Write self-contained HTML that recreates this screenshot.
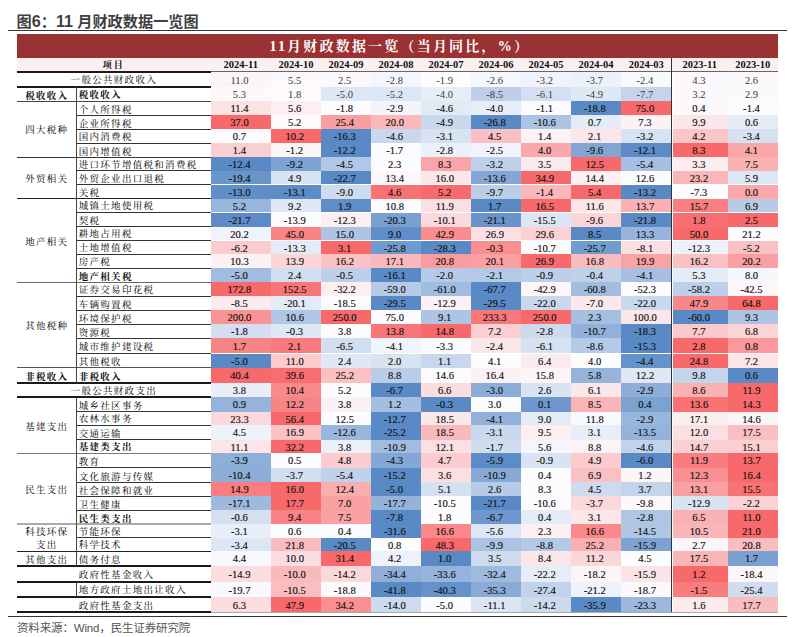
<!DOCTYPE html>
<html><head><meta charset="utf-8">
<style>
html,body{margin:0;padding:0;background:#fff;}
body{width:800px;height:637px;position:relative;overflow:hidden;}
.a{position:absolute;}
.t{position:absolute;left:16.5px;top:8.7px;font:bold 15.2px "Liberation Sans","Noto Sans CJK SC",sans-serif;color:#3f3f3f;white-space:nowrap;letter-spacing:0px;}
.hl{position:absolute;height:1px;background:#333;}
.vl{position:absolute;width:1px;background:#333;}
.bar{position:absolute;left:17px;top:33.6px;width:760.6px;height:24px;background:#9a3132;}
.bt{position:absolute;left:19.5px;top:35.2px;width:760.6px;height:24px;line-height:24px;text-align:center;color:#fff;font:bold 14px "Liberation Serif","Noto Serif CJK SC",serif;letter-spacing:2.2px;white-space:nowrap;}
.hd{position:absolute;top:57.6px;height:14px;background:#faf0f0;}
.hc{position:absolute;top:59px;height:14px;line-height:14px;text-align:center;font:bold 10.5px "Liberation Serif",serif;color:#111;white-space:nowrap;}
.c{position:absolute;text-align:center;font:10.6px "Liberation Serif",serif;color:#111;white-space:nowrap;box-sizing:border-box;padding-right:2.6px;-webkit-text-stroke:0.15px #111;}
.l{position:absolute;font:9.5px "Noto Serif CJK SC",serif;color:#000;white-space:nowrap;letter-spacing:1.3px;}
.b{font-weight:bold;color:#111;}
.f{position:absolute;left:17px;top:619px;letter-spacing:-0.15px;font:11.5px "Liberation Sans","Noto Sans CJK SC",sans-serif;color:#555;white-space:nowrap;}
</style></head><body>
<div class="t">图<span style="font-size:16.2px">6</span>：<span style="font-size:16.2px">11</span> 月财政数据一览图</div>
<div class="hl" style="left:8px;top:30px;width:779px;background:#333;"></div>
<div class="bar"></div>
<div class="bt">11月财政数据一览（当月同比，%）</div>

<div class="hd" style="left:17px;width:760.6px;"></div>
<div class="hc" style="left:17px;width:193.6px;font-family:'Noto Serif CJK SC',serif;font-size:9px;top:57.8px;letter-spacing:2px;">项目</div>
<div class="hc" style="left:210.6px;width:60.4px;">2024-11</div>
<div class="hc" style="left:271px;width:50px;">2024-10</div>
<div class="hc" style="left:321px;width:50px;">2024-09</div>
<div class="hc" style="left:371px;width:50px;">2024-08</div>
<div class="hc" style="left:421px;width:50px;">2024-07</div>
<div class="hc" style="left:471px;width:50px;">2024-06</div>
<div class="hc" style="left:521px;width:50px;">2024-05</div>
<div class="hc" style="left:571px;width:50px;">2024-04</div>
<div class="hc" style="left:621px;width:50.5px;">2024-03</div>
<div class="hc" style="left:671.5px;width:56.5px;">2023-11</div>
<div class="hc" style="left:728px;width:49.6px;">2023-10</div>
<div class="c" style="left:210.6px;top:71.6px;width:60.4px;height:15.0px;line-height:17.0px;background:#fcf5f8;color:#3a3a3a;-webkit-text-stroke:0;">11.0</div>
<div class="c" style="left:271px;top:71.6px;width:50px;height:15.0px;line-height:17.0px;background:#fcf8fb;color:#3a3a3a;-webkit-text-stroke:0;">5.5</div>
<div class="c" style="left:321px;top:71.6px;width:50px;height:15.0px;line-height:17.0px;background:#fcf9fc;color:#3a3a3a;-webkit-text-stroke:0;">2.5</div>
<div class="c" style="left:371px;top:71.6px;width:50px;height:15.0px;line-height:17.0px;background:#f3f6fc;color:#3a3a3a;-webkit-text-stroke:0;">-2.8</div>
<div class="c" style="left:421px;top:71.6px;width:50px;height:15.0px;line-height:17.0px;background:#fcfcff;color:#3a3a3a;-webkit-text-stroke:0;">-1.9</div>
<div class="c" style="left:471px;top:71.6px;width:50px;height:15.0px;line-height:17.0px;background:#f5f7fd;color:#3a3a3a;-webkit-text-stroke:0;">-2.6</div>
<div class="c" style="left:521px;top:71.6px;width:50px;height:15.0px;line-height:17.0px;background:#f0f3fb;color:#3a3a3a;-webkit-text-stroke:0;">-3.2</div>
<div class="c" style="left:571px;top:71.6px;width:50px;height:15.0px;line-height:17.0px;background:#ebf0f9;color:#3a3a3a;-webkit-text-stroke:0;">-3.7</div>
<div class="c" style="left:621px;top:71.6px;width:50.5px;height:15.0px;line-height:17.0px;background:#f7f9fd;color:#3a3a3a;-webkit-text-stroke:0;">-2.4</div>
<div class="c" style="left:672.5px;top:71.6px;width:55.5px;height:15.0px;line-height:17.0px;background:#fcf8fb;color:#3a3a3a;-webkit-text-stroke:0;">4.3</div>
<div class="c" style="left:728px;top:71.6px;width:49.6px;height:15.0px;line-height:17.0px;background:#fcf9fc;color:#3a3a3a;-webkit-text-stroke:0;">2.6</div>
<div class="c" style="left:210.6px;top:86.6px;width:60.4px;height:14.6px;line-height:16.6px;background:#fcf8fb;color:#3a3a3a;-webkit-text-stroke:0;">5.3</div>
<div class="c" style="left:271px;top:86.6px;width:50px;height:14.6px;line-height:16.6px;background:#fcfafd;color:#3a3a3a;-webkit-text-stroke:0;">1.8</div>
<div class="c" style="left:321px;top:86.6px;width:50px;height:14.6px;line-height:16.6px;background:#dee7f5;color:#3a3a3a;-webkit-text-stroke:0;">-5.0</div>
<div class="c" style="left:371px;top:86.6px;width:50px;height:14.6px;line-height:16.6px;background:#dce6f4;color:#3a3a3a;-webkit-text-stroke:0;">-5.2</div>
<div class="c" style="left:421px;top:86.6px;width:50px;height:14.6px;line-height:16.6px;background:#e8eef8;color:#3a3a3a;-webkit-text-stroke:0;">-4.0</div>
<div class="c" style="left:471px;top:86.6px;width:50px;height:14.6px;line-height:16.6px;background:#bdcfe9;color:#3a3a3a;-webkit-text-stroke:0;">-8.5</div>
<div class="c" style="left:521px;top:86.6px;width:50px;height:14.6px;line-height:16.6px;background:#d4e0f1;color:#3a3a3a;-webkit-text-stroke:0;">-6.1</div>
<div class="c" style="left:571px;top:86.6px;width:50px;height:14.6px;line-height:16.6px;background:#dfe8f5;color:#3a3a3a;-webkit-text-stroke:0;">-4.9</div>
<div class="c" style="left:621px;top:86.6px;width:50.5px;height:14.6px;line-height:16.6px;background:#c4d5eb;color:#3a3a3a;-webkit-text-stroke:0;">-7.7</div>
<div class="c" style="left:672.5px;top:86.6px;width:55.5px;height:14.6px;line-height:16.6px;background:#fcf9fc;color:#3a3a3a;-webkit-text-stroke:0;">3.2</div>
<div class="c" style="left:728px;top:86.6px;width:49.6px;height:14.6px;line-height:16.6px;background:#fcf9fc;color:#3a3a3a;-webkit-text-stroke:0;">2.9</div>
<div class="c" style="left:210.6px;top:101.2px;width:60.4px;height:14.1px;line-height:16.1px;background:#fbe3e5;">11.4</div>
<div class="c" style="left:271px;top:101.2px;width:50px;height:14.1px;line-height:16.1px;background:#fceef1;">5.6</div>
<div class="c" style="left:321px;top:101.2px;width:50px;height:14.1px;line-height:16.1px;background:#fcfcff;">-1.8</div>
<div class="c" style="left:371px;top:101.2px;width:50px;height:14.1px;line-height:16.1px;background:#f2f5fc;">-2.9</div>
<div class="c" style="left:421px;top:101.2px;width:50px;height:14.1px;line-height:16.1px;background:#e2eaf6;">-4.6</div>
<div class="c" style="left:471px;top:101.2px;width:50px;height:14.1px;line-height:16.1px;background:#e8eef8;">-4.0</div>
<div class="c" style="left:521px;top:101.2px;width:50px;height:14.1px;line-height:16.1px;background:#fcfafd;">-1.1</div>
<div class="c" style="left:571px;top:101.2px;width:50px;height:14.1px;line-height:16.1px;background:#5a8ac6;">-18.8</div>
<div class="c" style="left:621px;top:101.2px;width:50.5px;height:14.1px;line-height:16.1px;background:#f8696b;">75.0</div>
<div class="c" style="left:672.5px;top:101.2px;width:55.5px;height:14.1px;line-height:16.1px;background:#fcf8fb;">0.4</div>
<div class="c" style="left:728px;top:101.2px;width:49.6px;height:14.1px;line-height:16.1px;background:#fcfbfe;">-1.4</div>
<div class="c" style="left:210.6px;top:115.3px;width:60.4px;height:14.0px;line-height:16.0px;background:#f8696b;">37.0</div>
<div class="c" style="left:271px;top:115.3px;width:50px;height:14.0px;line-height:16.0px;background:#fcfcff;">5.2</div>
<div class="c" style="left:321px;top:115.3px;width:50px;height:14.0px;line-height:16.0px;background:#f99fa1;">25.4</div>
<div class="c" style="left:371px;top:115.3px;width:50px;height:14.0px;line-height:16.0px;background:#fab8ba;">20.0</div>
<div class="c" style="left:421px;top:115.3px;width:50px;height:14.0px;line-height:16.0px;background:#c9d8ed;">-4.9</div>
<div class="c" style="left:471px;top:115.3px;width:50px;height:14.0px;line-height:16.0px;background:#5a8ac6;">-26.8</div>
<div class="c" style="left:521px;top:115.3px;width:50px;height:14.0px;line-height:16.0px;background:#acc4e3;">-10.6</div>
<div class="c" style="left:571px;top:115.3px;width:50px;height:14.0px;line-height:16.0px;background:#e5ecf7;">0.7</div>
<div class="c" style="left:621px;top:115.3px;width:50.5px;height:14.0px;line-height:16.0px;background:#fcf2f5;">7.3</div>
<div class="c" style="left:672.5px;top:115.3px;width:55.5px;height:14.0px;line-height:16.0px;background:#fbe6e9;">9.9</div>
<div class="c" style="left:728px;top:115.3px;width:49.6px;height:14.0px;line-height:16.0px;background:#e5ecf7;">0.6</div>
<div class="c" style="left:210.6px;top:129.3px;width:60.4px;height:13.7px;line-height:15.7px;background:#fcfcff;">0.7</div>
<div class="c" style="left:271px;top:129.3px;width:50px;height:13.7px;line-height:15.7px;background:#f8696b;">10.2</div>
<div class="c" style="left:321px;top:129.3px;width:50px;height:13.7px;line-height:15.7px;background:#5a8ac6;">-16.3</div>
<div class="c" style="left:371px;top:129.3px;width:50px;height:13.7px;line-height:15.7px;background:#c9d8ed;">-4.6</div>
<div class="c" style="left:421px;top:129.3px;width:50px;height:13.7px;line-height:15.7px;background:#d8e3f2;">-3.1</div>
<div class="c" style="left:471px;top:129.3px;width:50px;height:13.7px;line-height:15.7px;background:#fac1c4;">4.5</div>
<div class="c" style="left:521px;top:129.3px;width:50px;height:13.7px;line-height:15.7px;background:#fcf1f4;">1.4</div>
<div class="c" style="left:571px;top:129.3px;width:50px;height:13.7px;line-height:15.7px;background:#fbe6e9;">2.1</div>
<div class="c" style="left:621px;top:129.3px;width:50.5px;height:13.7px;line-height:15.7px;background:#d7e2f2;">-3.2</div>
<div class="c" style="left:672.5px;top:129.3px;width:55.5px;height:13.7px;line-height:15.7px;background:#fbc6c8;">4.2</div>
<div class="c" style="left:728px;top:129.3px;width:49.6px;height:13.7px;line-height:15.7px;background:#d5e1f1;">-3.4</div>
<div class="c" style="left:210.6px;top:143.0px;width:60.4px;height:14.1px;line-height:16.1px;background:#fbced1;">1.4</div>
<div class="c" style="left:271px;top:143.0px;width:50px;height:14.1px;line-height:16.1px;background:#fcf5f8;">-1.2</div>
<div class="c" style="left:321px;top:143.0px;width:50px;height:14.1px;line-height:16.1px;background:#5a8ac6;">-12.2</div>
<div class="c" style="left:371px;top:143.0px;width:50px;height:14.1px;line-height:16.1px;background:#fcfcff;">-1.7</div>
<div class="c" style="left:421px;top:143.0px;width:50px;height:14.1px;line-height:16.1px;background:#ebf0f9;">-2.8</div>
<div class="c" style="left:471px;top:143.0px;width:50px;height:14.1px;line-height:16.1px;background:#f0f3fb;">-2.5</div>
<div class="c" style="left:521px;top:143.0px;width:50px;height:14.1px;line-height:16.1px;background:#faa8ab;">4.0</div>
<div class="c" style="left:571px;top:143.0px;width:50px;height:14.1px;line-height:16.1px;background:#82a6d4;">-9.6</div>
<div class="c" style="left:621px;top:143.0px;width:50.5px;height:14.1px;line-height:16.1px;background:#5c8bc7;">-12.1</div>
<div class="c" style="left:672.5px;top:143.0px;width:55.5px;height:14.1px;line-height:16.1px;background:#f8696b;">8.3</div>
<div class="c" style="left:728px;top:143.0px;width:49.6px;height:14.1px;line-height:16.1px;background:#faa7a9;">4.1</div>
<div class="c" style="left:210.6px;top:157.1px;width:60.4px;height:13.8px;line-height:15.8px;background:#5a8ac6;">-12.4</div>
<div class="c" style="left:271px;top:157.1px;width:50px;height:13.8px;line-height:15.8px;background:#7da3d2;">-9.2</div>
<div class="c" style="left:321px;top:157.1px;width:50px;height:13.8px;line-height:15.8px;background:#b1c7e5;">-4.5</div>
<div class="c" style="left:371px;top:157.1px;width:50px;height:13.8px;line-height:15.8px;background:#fcfcff;">2.3</div>
<div class="c" style="left:421px;top:157.1px;width:50px;height:13.8px;line-height:15.8px;background:#faa6a8;">8.3</div>
<div class="c" style="left:471px;top:157.1px;width:50px;height:13.8px;line-height:15.8px;background:#bfd1ea;">-3.2</div>
<div class="c" style="left:521px;top:157.1px;width:50px;height:13.8px;line-height:15.8px;background:#fcebee;">3.5</div>
<div class="c" style="left:571px;top:157.1px;width:50px;height:13.8px;line-height:15.8px;background:#f8696b;">12.5</div>
<div class="c" style="left:621px;top:157.1px;width:50.5px;height:13.8px;line-height:15.8px;background:#a7c0e1;">-5.4</div>
<div class="c" style="left:672.5px;top:157.1px;width:55.5px;height:13.8px;line-height:15.8px;background:#fceef0;">3.3</div>
<div class="c" style="left:728px;top:157.1px;width:49.6px;height:13.8px;line-height:15.8px;background:#fab1b4;">7.5</div>
<div class="c" style="left:210.6px;top:170.9px;width:60.4px;height:13.6px;line-height:15.6px;background:#6995cb;">-19.4</div>
<div class="c" style="left:271px;top:170.9px;width:50px;height:13.6px;line-height:15.6px;background:#d9e3f3;">4.9</div>
<div class="c" style="left:321px;top:170.9px;width:50px;height:13.6px;line-height:15.6px;background:#5a8ac6;">-22.7</div>
<div class="c" style="left:371px;top:170.9px;width:50px;height:13.6px;line-height:15.6px;background:#fcf7fa;">13.4</div>
<div class="c" style="left:421px;top:170.9px;width:50px;height:13.6px;line-height:15.6px;background:#fbe6e8;">16.0</div>
<div class="c" style="left:471px;top:170.9px;width:50px;height:13.6px;line-height:15.6px;background:#84a7d5;">-13.6</div>
<div class="c" style="left:521px;top:170.9px;width:50px;height:13.6px;line-height:15.6px;background:#f8696b;">34.9</div>
<div class="c" style="left:571px;top:170.9px;width:50px;height:13.6px;line-height:15.6px;background:#fcf0f3;">14.4</div>
<div class="c" style="left:621px;top:170.9px;width:50.5px;height:13.6px;line-height:15.6px;background:#fcfcff;">12.6</div>
<div class="c" style="left:672.5px;top:170.9px;width:55.5px;height:13.6px;line-height:15.6px;background:#fab6b9;">23.2</div>
<div class="c" style="left:728px;top:170.9px;width:49.6px;height:13.6px;line-height:15.6px;background:#dde6f4;">5.9</div>
<div class="c" style="left:210.6px;top:184.5px;width:60.4px;height:14.2px;line-height:16.2px;background:#5f8ec8;">-13.0</div>
<div class="c" style="left:271px;top:184.5px;width:50px;height:14.2px;line-height:16.2px;background:#5d8cc7;">-13.1</div>
<div class="c" style="left:321px;top:184.5px;width:50px;height:14.2px;line-height:16.2px;background:#cddbef;">-9.0</div>
<div class="c" style="left:371px;top:184.5px;width:50px;height:14.2px;line-height:16.2px;background:#f87274;">4.6</div>
<div class="c" style="left:421px;top:184.5px;width:50px;height:14.2px;line-height:16.2px;background:#f86b6d;">5.2</div>
<div class="c" style="left:471px;top:184.5px;width:50px;height:14.2px;line-height:16.2px;background:#bacee8;">-9.7</div>
<div class="c" style="left:521px;top:184.5px;width:50px;height:14.2px;line-height:16.2px;background:#fab8ba;">-1.4</div>
<div class="c" style="left:571px;top:184.5px;width:50px;height:14.2px;line-height:16.2px;background:#f8696b;">5.4</div>
<div class="c" style="left:621px;top:184.5px;width:50.5px;height:14.2px;line-height:16.2px;background:#5a8ac6;">-13.2</div>
<div class="c" style="left:672.5px;top:184.5px;width:55.5px;height:14.2px;line-height:16.2px;background:#fcfcff;">-7.3</div>
<div class="c" style="left:728px;top:184.5px;width:49.6px;height:14.2px;line-height:16.2px;background:#faa8aa;">0.0</div>
<div class="c" style="left:210.6px;top:198.7px;width:60.4px;height:13.8px;line-height:15.8px;background:#98b6dc;">5.2</div>
<div class="c" style="left:271px;top:198.7px;width:50px;height:13.8px;line-height:15.8px;background:#e0e8f5;">9.2</div>
<div class="c" style="left:321px;top:198.7px;width:50px;height:13.8px;line-height:15.8px;background:#5e8dc7;">1.9</div>
<div class="c" style="left:371px;top:198.7px;width:50px;height:13.8px;line-height:15.8px;background:#fcfcff;">10.8</div>
<div class="c" style="left:421px;top:198.7px;width:50px;height:13.8px;line-height:15.8px;background:#fbe0e2;">11.9</div>
<div class="c" style="left:471px;top:198.7px;width:50px;height:13.8px;line-height:15.8px;background:#5a8ac6;">1.7</div>
<div class="c" style="left:521px;top:198.7px;width:50px;height:13.8px;line-height:15.8px;background:#f8696b;">16.5</div>
<div class="c" style="left:571px;top:198.7px;width:50px;height:13.8px;line-height:15.8px;background:#fbe7ea;">11.6</div>
<div class="c" style="left:621px;top:198.7px;width:50.5px;height:13.8px;line-height:15.8px;background:#fab1b4;">13.7</div>
<div class="c" style="left:672.5px;top:198.7px;width:55.5px;height:13.8px;line-height:15.8px;background:#f97e80;">15.7</div>
<div class="c" style="left:728px;top:198.7px;width:49.6px;height:13.8px;line-height:15.8px;background:#b7cbe7;">6.9</div>
<div class="c" style="left:210.6px;top:212.5px;width:60.4px;height:14.1px;line-height:16.1px;background:#5c8bc7;">-21.7</div>
<div class="c" style="left:271px;top:212.5px;width:50px;height:14.1px;line-height:16.1px;background:#fcfcff;">-13.9</div>
<div class="c" style="left:321px;top:212.5px;width:50px;height:14.1px;line-height:16.1px;background:#fceef1;">-12.3</div>
<div class="c" style="left:371px;top:212.5px;width:50px;height:14.1px;line-height:16.1px;background:#79a0d1;">-20.3</div>
<div class="c" style="left:421px;top:212.5px;width:50px;height:14.1px;line-height:16.1px;background:#fbdadd;">-10.1</div>
<div class="c" style="left:471px;top:212.5px;width:50px;height:14.1px;line-height:16.1px;background:#6894cb;">-21.1</div>
<div class="c" style="left:521px;top:212.5px;width:50px;height:14.1px;line-height:16.1px;background:#dbe5f3;">-15.5</div>
<div class="c" style="left:571px;top:212.5px;width:50px;height:14.1px;line-height:16.1px;background:#fbd5d8;">-9.6</div>
<div class="c" style="left:621px;top:212.5px;width:50.5px;height:14.1px;line-height:16.1px;background:#5a8ac6;">-21.8</div>
<div class="c" style="left:672.5px;top:212.5px;width:55.5px;height:14.1px;line-height:16.1px;background:#f86f71;">1.8</div>
<div class="c" style="left:728px;top:212.5px;width:49.6px;height:14.1px;line-height:16.1px;background:#f8696b;">2.5</div>
<div class="c" style="left:210.6px;top:226.6px;width:60.4px;height:13.9px;line-height:15.9px;background:#eff3fb;">20.2</div>
<div class="c" style="left:271px;top:226.6px;width:50px;height:13.9px;line-height:15.9px;background:#f98385;">45.0</div>
<div class="c" style="left:321px;top:226.6px;width:50px;height:13.9px;line-height:15.9px;background:#adc4e3;">15.0</div>
<div class="c" style="left:371px;top:226.6px;width:50px;height:13.9px;line-height:15.9px;background:#608ec8;">9.0</div>
<div class="c" style="left:421px;top:226.6px;width:50px;height:13.9px;line-height:15.9px;background:#f98d8f;">42.9</div>
<div class="c" style="left:471px;top:226.6px;width:50px;height:13.9px;line-height:15.9px;background:#fbdfe2;">26.9</div>
<div class="c" style="left:521px;top:226.6px;width:50px;height:13.9px;line-height:15.9px;background:#fbd1d4;">29.6</div>
<div class="c" style="left:571px;top:226.6px;width:50px;height:13.9px;line-height:15.9px;background:#5a8ac6;">8.5</div>
<div class="c" style="left:621px;top:226.6px;width:50.5px;height:13.9px;line-height:15.9px;background:#97b5dc;">13.3</div>
<div class="c" style="left:672.5px;top:226.6px;width:55.5px;height:13.9px;line-height:15.9px;background:#f8696b;">50.0</div>
<div class="c" style="left:728px;top:226.6px;width:49.6px;height:13.9px;line-height:15.9px;background:#fcfcff;">21.2</div>
<div class="c" style="left:210.6px;top:240.5px;width:60.4px;height:13.9px;line-height:15.9px;background:#fbcccf;">-6.2</div>
<div class="c" style="left:271px;top:240.5px;width:50px;height:13.9px;line-height:15.9px;background:#e4ebf7;">-13.3</div>
<div class="c" style="left:321px;top:240.5px;width:50px;height:13.9px;line-height:15.9px;background:#f8696b;">3.1</div>
<div class="c" style="left:371px;top:240.5px;width:50px;height:13.9px;line-height:15.9px;background:#719ace;">-25.8</div>
<div class="c" style="left:421px;top:240.5px;width:50px;height:13.9px;line-height:15.9px;background:#5a8ac6;">-28.3</div>
<div class="c" style="left:471px;top:240.5px;width:50px;height:13.9px;line-height:15.9px;background:#f98d8f;">-0.3</div>
<div class="c" style="left:521px;top:240.5px;width:50px;height:13.9px;line-height:15.9px;background:#fcfcff;">-10.7</div>
<div class="c" style="left:571px;top:240.5px;width:50px;height:13.9px;line-height:15.9px;background:#729bce;">-25.7</div>
<div class="c" style="left:621px;top:240.5px;width:50.5px;height:13.9px;line-height:15.9px;background:#fbe0e3;">-8.1</div>
<div class="c" style="left:672.5px;top:240.5px;width:55.5px;height:13.9px;line-height:15.9px;background:#edf2fa;">-12.3</div>
<div class="c" style="left:728px;top:240.5px;width:49.6px;height:13.9px;line-height:15.9px;background:#fac1c4;">-5.2</div>
<div class="c" style="left:210.6px;top:254.4px;width:60.4px;height:13.9px;line-height:15.9px;background:#fcf2f5;">10.3</div>
<div class="c" style="left:271px;top:254.4px;width:50px;height:13.9px;line-height:15.9px;background:#fbd5d7;">13.9</div>
<div class="c" style="left:321px;top:254.4px;width:50px;height:13.9px;line-height:15.9px;background:#fac2c4;">16.2</div>
<div class="c" style="left:371px;top:254.4px;width:50px;height:13.9px;line-height:15.9px;background:#fababd;">17.1</div>
<div class="c" style="left:421px;top:254.4px;width:50px;height:13.9px;line-height:15.9px;background:#f99c9e;">20.8</div>
<div class="c" style="left:471px;top:254.4px;width:50px;height:13.9px;line-height:15.9px;background:#faa1a4;">20.1</div>
<div class="c" style="left:521px;top:254.4px;width:50px;height:13.9px;line-height:15.9px;background:#f8696b;">26.9</div>
<div class="c" style="left:571px;top:254.4px;width:50px;height:13.9px;line-height:15.9px;background:#fabdbf;">16.8</div>
<div class="c" style="left:621px;top:254.4px;width:50.5px;height:13.9px;line-height:15.9px;background:#faa3a5;">19.9</div>
<div class="c" style="left:672.5px;top:254.4px;width:55.5px;height:13.9px;line-height:15.9px;background:#fac2c4;">16.2</div>
<div class="c" style="left:728px;top:254.4px;width:49.6px;height:13.9px;line-height:15.9px;background:#faa0a3;">20.2</div>
<div class="c" style="left:210.6px;top:268.3px;width:60.4px;height:14.0px;line-height:16.0px;background:#a1bcdf;">-5.0</div>
<div class="c" style="left:271px;top:268.3px;width:50px;height:14.0px;line-height:16.0px;background:#d1def0;">2.4</div>
<div class="c" style="left:321px;top:268.3px;width:50px;height:14.0px;line-height:16.0px;background:#bed0e9;">-0.5</div>
<div class="c" style="left:371px;top:268.3px;width:50px;height:14.0px;line-height:16.0px;background:#5a8ac6;">-16.1</div>
<div class="c" style="left:421px;top:268.3px;width:50px;height:14.0px;line-height:16.0px;background:#b4cae6;">-2.0</div>
<div class="c" style="left:471px;top:268.3px;width:50px;height:14.0px;line-height:16.0px;background:#b4c9e6;">-2.1</div>
<div class="c" style="left:521px;top:268.3px;width:50px;height:14.0px;line-height:16.0px;background:#bccfe8;">-0.9</div>
<div class="c" style="left:571px;top:268.3px;width:50px;height:14.0px;line-height:16.0px;background:#bfd1e9;">-0.4</div>
<div class="c" style="left:621px;top:268.3px;width:50.5px;height:14.0px;line-height:16.0px;background:#a7c0e1;">-4.1</div>
<div class="c" style="left:672.5px;top:268.3px;width:55.5px;height:14.0px;line-height:16.0px;background:#e3ebf6;">5.3</div>
<div class="c" style="left:728px;top:268.3px;width:49.6px;height:14.0px;line-height:16.0px;background:#f5f7fc;">8.0</div>
<div class="c" style="left:210.6px;top:282.3px;width:60.4px;height:13.9px;line-height:15.9px;background:#f8696b;">172.8</div>
<div class="c" style="left:271px;top:282.3px;width:50px;height:13.9px;line-height:15.9px;background:#f87678;">152.5</div>
<div class="c" style="left:321px;top:282.3px;width:50px;height:13.9px;line-height:15.9px;background:#fceff2;">-32.2</div>
<div class="c" style="left:371px;top:282.3px;width:50px;height:13.9px;line-height:15.9px;background:#b6cae6;">-59.0</div>
<div class="c" style="left:421px;top:282.3px;width:50px;height:13.9px;line-height:15.9px;background:#a0bcdf;">-61.0</div>
<div class="c" style="left:471px;top:282.3px;width:50px;height:13.9px;line-height:15.9px;background:#5a8ac6;">-67.7</div>
<div class="c" style="left:521px;top:282.3px;width:50px;height:13.9px;line-height:15.9px;background:#fcf6f9;">-42.9</div>
<div class="c" style="left:571px;top:282.3px;width:50px;height:13.9px;line-height:15.9px;background:#a3bde0;">-60.8</div>
<div class="c" style="left:621px;top:282.3px;width:50.5px;height:13.9px;line-height:15.9px;background:#fcfcff;">-52.3</div>
<div class="c" style="left:672.5px;top:282.3px;width:55.5px;height:13.9px;line-height:15.9px;background:#bed0e9;">-58.2</div>
<div class="c" style="left:728px;top:282.3px;width:49.6px;height:13.9px;line-height:15.9px;background:#fcf6f9;">-42.5</div>
<div class="c" style="left:210.6px;top:296.2px;width:60.4px;height:14.0px;line-height:16.0px;background:#fceaed;">-8.5</div>
<div class="c" style="left:271px;top:296.2px;width:50px;height:14.0px;line-height:16.0px;background:#e4ebf7;">-20.1</div>
<div class="c" style="left:321px;top:296.2px;width:50px;height:14.0px;line-height:16.0px;background:#fcfcff;">-18.5</div>
<div class="c" style="left:371px;top:296.2px;width:50px;height:14.0px;line-height:16.0px;background:#5a8ac6;">-29.5</div>
<div class="c" style="left:421px;top:296.2px;width:50px;height:14.0px;line-height:16.0px;background:#fcf2f5;">-12.9</div>
<div class="c" style="left:471px;top:296.2px;width:50px;height:14.0px;line-height:16.0px;background:#5a8ac6;">-29.5</div>
<div class="c" style="left:521px;top:296.2px;width:50px;height:14.0px;line-height:16.0px;background:#c8d8ed;">-22.0</div>
<div class="c" style="left:571px;top:296.2px;width:50px;height:14.0px;line-height:16.0px;background:#fbe8eb;">-7.0</div>
<div class="c" style="left:621px;top:296.2px;width:50.5px;height:14.0px;line-height:16.0px;background:#c8d8ed;">-22.0</div>
<div class="c" style="left:672.5px;top:296.2px;width:55.5px;height:14.0px;line-height:16.0px;background:#f98789;">47.9</div>
<div class="c" style="left:728px;top:296.2px;width:49.6px;height:14.0px;line-height:16.0px;background:#f8696b;">64.8</div>
<div class="c" style="left:210.6px;top:310.2px;width:60.4px;height:14.1px;line-height:16.1px;background:#f99395;">200.0</div>
<div class="c" style="left:271px;top:310.2px;width:50px;height:14.1px;line-height:16.1px;background:#afc6e4;">10.6</div>
<div class="c" style="left:321px;top:310.2px;width:50px;height:14.1px;line-height:16.1px;background:#f8696b;">250.0</div>
<div class="c" style="left:371px;top:310.2px;width:50px;height:14.1px;line-height:16.1px;background:#fcfcff;">75.0</div>
<div class="c" style="left:421px;top:310.2px;width:50px;height:14.1px;line-height:16.1px;background:#adc4e3;">9.1</div>
<div class="c" style="left:471px;top:310.2px;width:50px;height:14.1px;line-height:16.1px;background:#f87779;">233.3</div>
<div class="c" style="left:521px;top:310.2px;width:50px;height:14.1px;line-height:16.1px;background:#f8696b;">250.0</div>
<div class="c" style="left:571px;top:310.2px;width:50px;height:14.1px;line-height:16.1px;background:#a5bfe0;">2.3</div>
<div class="c" style="left:621px;top:310.2px;width:50.5px;height:14.1px;line-height:16.1px;background:#fbe7ea;">100.0</div>
<div class="c" style="left:672.5px;top:310.2px;width:55.5px;height:14.1px;line-height:16.1px;background:#5a8ac6;">-60.0</div>
<div class="c" style="left:728px;top:310.2px;width:49.6px;height:14.1px;line-height:16.1px;background:#adc5e3;">9.3</div>
<div class="c" style="left:210.6px;top:324.3px;width:60.4px;height:14.0px;line-height:16.0px;background:#d3dff1;">-1.8</div>
<div class="c" style="left:271px;top:324.3px;width:50px;height:14.0px;line-height:16.0px;background:#dee7f4;">-0.3</div>
<div class="c" style="left:321px;top:324.3px;width:50px;height:14.0px;line-height:16.0px;background:#fcfcff;">3.8</div>
<div class="c" style="left:371px;top:324.3px;width:50px;height:14.0px;line-height:16.0px;background:#f87678;">13.8</div>
<div class="c" style="left:421px;top:324.3px;width:50px;height:14.0px;line-height:16.0px;background:#f8696b;">14.8</div>
<div class="c" style="left:471px;top:324.3px;width:50px;height:14.0px;line-height:16.0px;background:#fbcfd1;">7.2</div>
<div class="c" style="left:521px;top:324.3px;width:50px;height:14.0px;line-height:16.0px;background:#ccdaee;">-2.8</div>
<div class="c" style="left:571px;top:324.3px;width:50px;height:14.0px;line-height:16.0px;background:#92b1da;">-10.7</div>
<div class="c" style="left:621px;top:324.3px;width:50.5px;height:14.0px;line-height:16.0px;background:#5a8ac6;">-18.3</div>
<div class="c" style="left:672.5px;top:324.3px;width:55.5px;height:14.0px;line-height:16.0px;background:#fbc8cb;">7.7</div>
<div class="c" style="left:728px;top:324.3px;width:49.6px;height:14.0px;line-height:16.0px;background:#fbd4d7;">6.8</div>
<div class="c" style="left:210.6px;top:338.3px;width:60.4px;height:15.2px;line-height:17.2px;background:#f98486;">1.7</div>
<div class="c" style="left:271px;top:338.3px;width:50px;height:15.2px;line-height:17.2px;background:#f87a7c;">2.1</div>
<div class="c" style="left:321px;top:338.3px;width:50px;height:15.2px;line-height:17.2px;background:#d1def0;">-6.5</div>
<div class="c" style="left:371px;top:338.3px;width:50px;height:15.2px;line-height:17.2px;background:#f1f4fb;">-4.1</div>
<div class="c" style="left:421px;top:338.3px;width:50px;height:15.2px;line-height:17.2px;background:#fcfcff;">-3.3</div>
<div class="c" style="left:471px;top:338.3px;width:50px;height:15.2px;line-height:17.2px;background:#fbe6e9;">-2.4</div>
<div class="c" style="left:521px;top:338.3px;width:50px;height:15.2px;line-height:17.2px;background:#d6e1f2;">-6.1</div>
<div class="c" style="left:571px;top:338.3px;width:50px;height:15.2px;line-height:17.2px;background:#b4cae6;">-8.6</div>
<div class="c" style="left:621px;top:338.3px;width:50.5px;height:15.2px;line-height:17.2px;background:#5a8ac6;">-15.3</div>
<div class="c" style="left:672.5px;top:338.3px;width:55.5px;height:15.2px;line-height:17.2px;background:#f8696b;">2.8</div>
<div class="c" style="left:728px;top:338.3px;width:49.6px;height:15.2px;line-height:17.2px;background:#f9999c;">0.8</div>
<div class="c" style="left:210.6px;top:353.5px;width:60.4px;height:14.4px;line-height:16.4px;background:#5a8ac6;">-5.0</div>
<div class="c" style="left:271px;top:353.5px;width:50px;height:14.4px;line-height:16.4px;background:#fbcbcd;">11.0</div>
<div class="c" style="left:321px;top:353.5px;width:50px;height:14.4px;line-height:16.4px;background:#dfe8f5;">2.4</div>
<div class="c" style="left:371px;top:353.5px;width:50px;height:14.4px;line-height:16.4px;background:#d8e3f2;">2.0</div>
<div class="c" style="left:421px;top:353.5px;width:50px;height:14.4px;line-height:16.4px;background:#c8d7ed;">1.1</div>
<div class="c" style="left:471px;top:353.5px;width:50px;height:14.4px;line-height:16.4px;background:#fcfbfe;">4.1</div>
<div class="c" style="left:521px;top:353.5px;width:50px;height:14.4px;line-height:16.4px;background:#fcebee;">6.4</div>
<div class="c" style="left:571px;top:353.5px;width:50px;height:14.4px;line-height:16.4px;background:#fcfcff;">4.0</div>
<div class="c" style="left:621px;top:353.5px;width:50.5px;height:14.4px;line-height:16.4px;background:#6592ca;">-4.4</div>
<div class="c" style="left:672.5px;top:353.5px;width:55.5px;height:14.4px;line-height:16.4px;background:#f8696b;">24.8</div>
<div class="c" style="left:728px;top:353.5px;width:49.6px;height:14.4px;line-height:16.4px;background:#fbe5e8;">7.2</div>
<div class="c" style="left:210.6px;top:367.9px;width:60.4px;height:14.7px;line-height:16.7px;background:#f8696b;">40.4</div>
<div class="c" style="left:271px;top:367.9px;width:50px;height:14.7px;line-height:16.7px;background:#f86e70;">39.6</div>
<div class="c" style="left:321px;top:367.9px;width:50px;height:14.7px;line-height:16.7px;background:#fac0c2;">25.2</div>
<div class="c" style="left:371px;top:367.9px;width:50px;height:14.7px;line-height:16.7px;background:#b9cde7;">8.8</div>
<div class="c" style="left:421px;top:367.9px;width:50px;height:14.7px;line-height:16.7px;background:#fcfcff;">14.6</div>
<div class="c" style="left:471px;top:367.9px;width:50px;height:14.7px;line-height:16.7px;background:#fcf2f5;">16.4</div>
<div class="c" style="left:521px;top:367.9px;width:50px;height:14.7px;line-height:16.7px;background:#fcf5f8;">15.8</div>
<div class="c" style="left:571px;top:367.9px;width:50px;height:14.7px;line-height:16.7px;background:#96b4db;">5.8</div>
<div class="c" style="left:621px;top:367.9px;width:50.5px;height:14.7px;line-height:16.7px;background:#e0e8f5;">12.2</div>
<div class="c" style="left:672.5px;top:367.9px;width:55.5px;height:14.7px;line-height:16.7px;background:#c4d5eb;">9.8</div>
<div class="c" style="left:728px;top:367.9px;width:49.6px;height:14.7px;line-height:16.7px;background:#5a8ac6;">0.6</div>
<div class="c" style="left:210.6px;top:382.6px;width:60.4px;height:14.6px;line-height:16.6px;background:#e9eff8;">3.8</div>
<div class="c" style="left:271px;top:382.6px;width:50px;height:14.6px;line-height:16.6px;background:#f98a8c;">10.4</div>
<div class="c" style="left:321px;top:382.6px;width:50px;height:14.6px;line-height:16.6px;background:#fcfcff;">5.2</div>
<div class="c" style="left:371px;top:382.6px;width:50px;height:14.6px;line-height:16.6px;background:#5a8ac6;">-6.7</div>
<div class="c" style="left:421px;top:382.6px;width:50px;height:14.6px;line-height:16.6px;background:#fbdde0;">6.6</div>
<div class="c" style="left:471px;top:382.6px;width:50px;height:14.6px;line-height:16.6px;background:#8cadd8;">-3.0</div>
<div class="c" style="left:521px;top:382.6px;width:50px;height:14.6px;line-height:16.6px;background:#d9e3f3;">2.6</div>
<div class="c" style="left:571px;top:382.6px;width:50px;height:14.6px;line-height:16.6px;background:#fbe8eb;">6.1</div>
<div class="c" style="left:621px;top:382.6px;width:50.5px;height:14.6px;line-height:16.6px;background:#8eaed8;">-2.9</div>
<div class="c" style="left:672.5px;top:382.6px;width:55.5px;height:14.6px;line-height:16.6px;background:#fab1b4;">8.6</div>
<div class="c" style="left:728px;top:382.6px;width:49.6px;height:14.6px;line-height:16.6px;background:#f8696b;">11.9</div>
<div class="c" style="left:210.6px;top:397.2px;width:60.4px;height:14.4px;line-height:16.4px;background:#95b3db;">0.9</div>
<div class="c" style="left:271px;top:397.2px;width:50px;height:14.4px;line-height:16.4px;background:#f98487;">12.2</div>
<div class="c" style="left:321px;top:397.2px;width:50px;height:14.4px;line-height:16.4px;background:#fcf2f5;">3.8</div>
<div class="c" style="left:371px;top:397.2px;width:50px;height:14.4px;line-height:16.4px;background:#a4bee0;">1.2</div>
<div class="c" style="left:421px;top:397.2px;width:50px;height:14.4px;line-height:16.4px;background:#5a8ac6;">-0.3</div>
<div class="c" style="left:471px;top:397.2px;width:50px;height:14.4px;line-height:16.4px;background:#fcfcff;">3.0</div>
<div class="c" style="left:521px;top:397.2px;width:50px;height:14.4px;line-height:16.4px;background:#6e98cd;">0.1</div>
<div class="c" style="left:571px;top:397.2px;width:50px;height:14.4px;line-height:16.4px;background:#fab4b7;">8.5</div>
<div class="c" style="left:621px;top:397.2px;width:50.5px;height:14.4px;line-height:16.4px;background:#7ca2d2;">0.4</div>
<div class="c" style="left:672.5px;top:397.2px;width:55.5px;height:14.4px;line-height:16.4px;background:#f87274;">13.6</div>
<div class="c" style="left:728px;top:397.2px;width:49.6px;height:14.4px;line-height:16.4px;background:#f8696b;">14.3</div>
<div class="c" style="left:210.6px;top:411.6px;width:60.4px;height:13.8px;line-height:15.8px;background:#fbd8db;">23.3</div>
<div class="c" style="left:271px;top:411.6px;width:50px;height:13.8px;line-height:15.8px;background:#f8696b;">56.4</div>
<div class="c" style="left:321px;top:411.6px;width:50px;height:13.8px;line-height:15.8px;background:#fcfcff;">12.5</div>
<div class="c" style="left:371px;top:411.6px;width:50px;height:13.8px;line-height:15.8px;background:#5a8ac6;">-12.7</div>
<div class="c" style="left:421px;top:411.6px;width:50px;height:13.8px;line-height:15.8px;background:#fbe8eb;">18.5</div>
<div class="c" style="left:471px;top:411.6px;width:50px;height:13.8px;line-height:15.8px;background:#91b1d9;">-4.1</div>
<div class="c" style="left:521px;top:411.6px;width:50px;height:13.8px;line-height:15.8px;background:#e6ecf7;">9.0</div>
<div class="c" style="left:571px;top:411.6px;width:50px;height:13.8px;line-height:15.8px;background:#f8f9fd;">11.8</div>
<div class="c" style="left:621px;top:411.6px;width:50.5px;height:13.8px;line-height:15.8px;background:#99b6dc;">-2.9</div>
<div class="c" style="left:672.5px;top:411.6px;width:55.5px;height:13.8px;line-height:15.8px;background:#fcedef;">17.1</div>
<div class="c" style="left:728px;top:411.6px;width:49.6px;height:13.8px;line-height:15.8px;background:#fcf5f8;">14.6</div>
<div class="c" style="left:210.6px;top:425.4px;width:60.4px;height:14.2px;line-height:16.2px;background:#eef2fa;">4.5</div>
<div class="c" style="left:271px;top:425.4px;width:50px;height:14.2px;line-height:16.2px;background:#fac3c6;">16.9</div>
<div class="c" style="left:321px;top:425.4px;width:50px;height:14.2px;line-height:16.2px;background:#99b6dc;">-12.6</div>
<div class="c" style="left:371px;top:425.4px;width:50px;height:14.2px;line-height:16.2px;background:#5a8ac6;">-25.2</div>
<div class="c" style="left:421px;top:425.4px;width:50px;height:14.2px;line-height:16.2px;background:#fababc;">18.5</div>
<div class="c" style="left:471px;top:425.4px;width:50px;height:14.2px;line-height:16.2px;background:#c8d8ed;">-3.1</div>
<div class="c" style="left:521px;top:425.4px;width:50px;height:14.2px;line-height:16.2px;background:#fceef1;">9.5</div>
<div class="c" style="left:571px;top:425.4px;width:50px;height:14.2px;line-height:16.2px;background:#e8eef8;">3.1</div>
<div class="c" style="left:621px;top:425.4px;width:50.5px;height:14.2px;line-height:16.2px;background:#94b3db;">-13.5</div>
<div class="c" style="left:672.5px;top:425.4px;width:55.5px;height:14.2px;line-height:16.2px;background:#fbe0e3;">12.0</div>
<div class="c" style="left:728px;top:425.4px;width:49.6px;height:14.2px;line-height:16.2px;background:#fabfc2;">17.5</div>
<div class="c" style="left:210.6px;top:439.6px;width:60.4px;height:13.8px;line-height:15.8px;background:#fbe5e8;">11.1</div>
<div class="c" style="left:271px;top:439.6px;width:50px;height:13.8px;line-height:15.8px;background:#f8696b;">32.2</div>
<div class="c" style="left:321px;top:439.6px;width:50px;height:13.8px;line-height:15.8px;background:#ebf0f9;">3.8</div>
<div class="c" style="left:371px;top:439.6px;width:50px;height:13.8px;line-height:15.8px;background:#a2bcdf;">-10.9</div>
<div class="c" style="left:421px;top:439.6px;width:50px;height:13.8px;line-height:15.8px;background:#fbdfe2;">12.1</div>
<div class="c" style="left:471px;top:439.6px;width:50px;height:13.8px;line-height:15.8px;background:#d0ddef;">-1.7</div>
<div class="c" style="left:521px;top:439.6px;width:50px;height:13.8px;line-height:15.8px;background:#f4f6fc;">5.6</div>
<div class="c" style="left:571px;top:439.6px;width:50px;height:13.8px;line-height:15.8px;background:#fcf3f6;">8.8</div>
<div class="c" style="left:621px;top:439.6px;width:50.5px;height:13.8px;line-height:15.8px;background:#c1d2ea;">-4.6</div>
<div class="c" style="left:672.5px;top:439.6px;width:55.5px;height:13.8px;line-height:15.8px;background:#fbd0d3;">14.7</div>
<div class="c" style="left:728px;top:439.6px;width:49.6px;height:13.8px;line-height:15.8px;background:#fbced0;">15.1</div>
<div class="c" style="left:210.6px;top:453.4px;width:60.4px;height:14.5px;line-height:16.5px;background:#8eafd8;">-3.9</div>
<div class="c" style="left:271px;top:453.4px;width:50px;height:14.5px;line-height:16.5px;background:#fcfcff;">0.5</div>
<div class="c" style="left:321px;top:453.4px;width:50px;height:14.5px;line-height:16.5px;background:#fbcccf;">4.8</div>
<div class="c" style="left:371px;top:453.4px;width:50px;height:14.5px;line-height:16.5px;background:#84a8d5;">-4.3</div>
<div class="c" style="left:421px;top:453.4px;width:50px;height:14.5px;line-height:16.5px;background:#fbcdd0;">4.7</div>
<div class="c" style="left:471px;top:453.4px;width:50px;height:14.5px;line-height:16.5px;background:#5c8cc7;">-5.9</div>
<div class="c" style="left:521px;top:453.4px;width:50px;height:14.5px;line-height:16.5px;background:#d9e3f3;">-0.9</div>
<div class="c" style="left:571px;top:453.4px;width:50px;height:14.5px;line-height:16.5px;background:#fbcbce;">4.9</div>
<div class="c" style="left:621px;top:453.4px;width:50.5px;height:14.5px;line-height:16.5px;background:#5a8ac6;">-6.0</div>
<div class="c" style="left:672.5px;top:453.4px;width:55.5px;height:14.5px;line-height:16.5px;background:#f97d7f;">11.9</div>
<div class="c" style="left:728px;top:453.4px;width:49.6px;height:14.5px;line-height:16.5px;background:#f8696b;">13.7</div>
<div class="c" style="left:210.6px;top:467.9px;width:60.4px;height:14.1px;line-height:16.1px;background:#8cadd8;">-10.4</div>
<div class="c" style="left:271px;top:467.9px;width:50px;height:14.1px;line-height:16.1px;background:#d1def0;">-3.7</div>
<div class="c" style="left:321px;top:467.9px;width:50px;height:14.1px;line-height:16.1px;background:#c0d2ea;">-5.4</div>
<div class="c" style="left:371px;top:467.9px;width:50px;height:14.1px;line-height:16.1px;background:#5a8ac6;">-15.2</div>
<div class="c" style="left:421px;top:467.9px;width:50px;height:14.1px;line-height:16.1px;background:#fbdfe1;">3.6</div>
<div class="c" style="left:471px;top:467.9px;width:50px;height:14.1px;line-height:16.1px;background:#87a9d6;">-10.9</div>
<div class="c" style="left:521px;top:467.9px;width:50px;height:14.1px;line-height:16.1px;background:#fcfcff;">0.4</div>
<div class="c" style="left:571px;top:467.9px;width:50px;height:14.1px;line-height:16.1px;background:#fac0c3;">6.9</div>
<div class="c" style="left:621px;top:467.9px;width:50.5px;height:14.1px;line-height:16.1px;background:#fcf5f8;">1.2</div>
<div class="c" style="left:672.5px;top:467.9px;width:55.5px;height:14.1px;line-height:16.1px;background:#f98f91;">12.3</div>
<div class="c" style="left:728px;top:467.9px;width:49.6px;height:14.1px;line-height:16.1px;background:#f8696b;">16.4</div>
<div class="c" style="left:210.6px;top:482.0px;width:60.4px;height:14.1px;line-height:16.1px;background:#f97e80;">14.9</div>
<div class="c" style="left:271px;top:482.0px;width:50px;height:14.1px;line-height:16.1px;background:#f8696b;">16.0</div>
<div class="c" style="left:321px;top:482.0px;width:50px;height:14.1px;line-height:16.1px;background:#faaeb0;">12.4</div>
<div class="c" style="left:371px;top:482.0px;width:50px;height:14.1px;line-height:16.1px;background:#5a8ac6;">-5.0</div>
<div class="c" style="left:421px;top:482.0px;width:50px;height:14.1px;line-height:16.1px;background:#d5e1f1;">5.1</div>
<div class="c" style="left:471px;top:482.0px;width:50px;height:14.1px;line-height:16.1px;background:#b7cbe7;">2.6</div>
<div class="c" style="left:521px;top:482.0px;width:50px;height:14.1px;line-height:16.1px;background:#fcfcff;">8.3</div>
<div class="c" style="left:571px;top:482.0px;width:50px;height:14.1px;line-height:16.1px;background:#cedbef;">4.5</div>
<div class="c" style="left:621px;top:482.0px;width:50.5px;height:14.1px;line-height:16.1px;background:#c4d5eb;">3.7</div>
<div class="c" style="left:672.5px;top:482.0px;width:55.5px;height:14.1px;line-height:16.1px;background:#faa0a3;">13.1</div>
<div class="c" style="left:728px;top:482.0px;width:49.6px;height:14.1px;line-height:16.1px;background:#f87375;">15.5</div>
<div class="c" style="left:210.6px;top:496.1px;width:60.4px;height:14.1px;line-height:16.1px;background:#9db9dd;">-17.1</div>
<div class="c" style="left:271px;top:496.1px;width:50px;height:14.1px;line-height:16.1px;background:#f8696b;">17.7</div>
<div class="c" style="left:321px;top:496.1px;width:50px;height:14.1px;line-height:16.1px;background:#faa1a3;">7.0</div>
<div class="c" style="left:371px;top:496.1px;width:50px;height:14.1px;line-height:16.1px;background:#94b3da;">-17.7</div>
<div class="c" style="left:421px;top:496.1px;width:50px;height:14.1px;line-height:16.1px;background:#fcfcff;">-10.5</div>
<div class="c" style="left:471px;top:496.1px;width:50px;height:14.1px;line-height:16.1px;background:#5a8ac6;">-21.7</div>
<div class="c" style="left:521px;top:496.1px;width:50px;height:14.1px;line-height:16.1px;background:#fbfbfe;">-10.6</div>
<div class="c" style="left:571px;top:496.1px;width:50px;height:14.1px;line-height:16.1px;background:#fbd9db;">-3.7</div>
<div class="c" style="left:621px;top:496.1px;width:50.5px;height:14.1px;line-height:16.1px;background:#fcf8fb;">-9.8</div>
<div class="c" style="left:672.5px;top:496.1px;width:55.5px;height:14.1px;line-height:16.1px;background:#d9e4f3;">-12.9</div>
<div class="c" style="left:728px;top:496.1px;width:49.6px;height:14.1px;line-height:16.1px;background:#fbd1d3;">-2.2</div>
<div class="c" style="left:210.6px;top:510.2px;width:60.4px;height:14.0px;line-height:16.0px;background:#d4e0f1;">-0.6</div>
<div class="c" style="left:271px;top:510.2px;width:50px;height:14.0px;line-height:16.0px;background:#f98385;">9.4</div>
<div class="c" style="left:321px;top:510.2px;width:50px;height:14.0px;line-height:16.0px;background:#faa1a3;">7.5</div>
<div class="c" style="left:371px;top:510.2px;width:50px;height:14.0px;line-height:16.0px;background:#5a8ac6;">-7.8</div>
<div class="c" style="left:421px;top:510.2px;width:50px;height:14.0px;line-height:16.0px;background:#fcfcff;">1.8</div>
<div class="c" style="left:471px;top:510.2px;width:50px;height:14.0px;line-height:16.0px;background:#6d97cd;">-6.7</div>
<div class="c" style="left:521px;top:510.2px;width:50px;height:14.0px;line-height:16.0px;background:#e4ebf7;">0.4</div>
<div class="c" style="left:571px;top:510.2px;width:50px;height:14.0px;line-height:16.0px;background:#fbe7ea;">3.1</div>
<div class="c" style="left:621px;top:510.2px;width:50.5px;height:14.0px;line-height:16.0px;background:#aec5e4;">-2.8</div>
<div class="c" style="left:672.5px;top:510.2px;width:55.5px;height:14.0px;line-height:16.0px;background:#fab1b3;">6.5</div>
<div class="c" style="left:728px;top:510.2px;width:49.6px;height:14.0px;line-height:16.0px;background:#f8696b;">11.0</div>
<div class="c" style="left:210.6px;top:524.2px;width:60.4px;height:13.4px;line-height:15.4px;background:#e9eff8;">-3.1</div>
<div class="c" style="left:271px;top:524.2px;width:50px;height:13.4px;line-height:15.4px;background:#fcfcff;">0.6</div>
<div class="c" style="left:321px;top:524.2px;width:50px;height:13.4px;line-height:15.4px;background:#fbfbff;">0.4</div>
<div class="c" style="left:371px;top:524.2px;width:50px;height:13.4px;line-height:15.4px;background:#5a8ac6;">-31.6</div>
<div class="c" style="left:421px;top:524.2px;width:50px;height:13.4px;line-height:15.4px;background:#f9898b;">16.6</div>
<div class="c" style="left:471px;top:524.2px;width:50px;height:13.4px;line-height:15.4px;background:#dde6f4;">-5.6</div>
<div class="c" style="left:521px;top:524.2px;width:50px;height:13.4px;line-height:15.4px;background:#fcf0f3;">2.3</div>
<div class="c" style="left:571px;top:524.2px;width:50px;height:13.4px;line-height:15.4px;background:#f9898b;">16.6</div>
<div class="c" style="left:621px;top:524.2px;width:50.5px;height:13.4px;line-height:15.4px;background:#b0c7e4;">-14.5</div>
<div class="c" style="left:672.5px;top:524.2px;width:55.5px;height:13.4px;line-height:15.4px;background:#fab5b7;">10.5</div>
<div class="c" style="left:728px;top:524.2px;width:49.6px;height:13.4px;line-height:15.4px;background:#f8696b;">21.0</div>
<div class="c" style="left:210.6px;top:537.6px;width:60.4px;height:13.6px;line-height:15.6px;background:#dce6f4;">-3.4</div>
<div class="c" style="left:271px;top:537.6px;width:50px;height:13.6px;line-height:15.6px;background:#fabbbe;">21.8</div>
<div class="c" style="left:321px;top:537.6px;width:50px;height:13.6px;line-height:15.6px;background:#5a8ac6;">-20.5</div>
<div class="c" style="left:371px;top:537.6px;width:50px;height:13.6px;line-height:15.6px;background:#fcfcff;">0.8</div>
<div class="c" style="left:421px;top:537.6px;width:50px;height:13.6px;line-height:15.6px;background:#f8696b;">48.3</div>
<div class="c" style="left:471px;top:537.6px;width:50px;height:13.6px;line-height:15.6px;background:#abc3e2;">-9.9</div>
<div class="c" style="left:521px;top:537.6px;width:50px;height:13.6px;line-height:15.6px;background:#b3c9e5;">-8.8</div>
<div class="c" style="left:571px;top:537.6px;width:50px;height:13.6px;line-height:15.6px;background:#fab0b3;">25.2</div>
<div class="c" style="left:621px;top:537.6px;width:50.5px;height:13.6px;line-height:15.6px;background:#7da3d2;">-15.9</div>
<div class="c" style="left:672.5px;top:537.6px;width:55.5px;height:13.6px;line-height:15.6px;background:#fcf6f9;">2.7</div>
<div class="c" style="left:728px;top:537.6px;width:49.6px;height:13.6px;line-height:15.6px;background:#fabec1;">20.8</div>
<div class="c" style="left:210.6px;top:551.2px;width:60.4px;height:14.4px;line-height:16.4px;background:#f7f9fd;">4.4</div>
<div class="c" style="left:271px;top:551.2px;width:50px;height:14.4px;line-height:16.4px;background:#fbdee1;">10.0</div>
<div class="c" style="left:321px;top:551.2px;width:50px;height:14.4px;line-height:16.4px;background:#f8696b;">31.4</div>
<div class="c" style="left:371px;top:551.2px;width:50px;height:14.4px;line-height:16.4px;background:#eef2fa;">4.2</div>
<div class="c" style="left:421px;top:551.2px;width:50px;height:14.4px;line-height:16.4px;background:#5a8ac6;">1.0</div>
<div class="c" style="left:471px;top:551.2px;width:50px;height:14.4px;line-height:16.4px;background:#cedbef;">3.5</div>
<div class="c" style="left:521px;top:551.2px;width:50px;height:14.4px;line-height:16.4px;background:#fbe7ea;">8.4</div>
<div class="c" style="left:571px;top:551.2px;width:50px;height:14.4px;line-height:16.4px;background:#fbd7da;">11.2</div>
<div class="c" style="left:621px;top:551.2px;width:50.5px;height:14.4px;line-height:16.4px;background:#fcfcff;">4.5</div>
<div class="c" style="left:672.5px;top:551.2px;width:55.5px;height:14.4px;line-height:16.4px;background:#fab5b7;">17.5</div>
<div class="c" style="left:728px;top:551.2px;width:49.6px;height:14.4px;line-height:16.4px;background:#7aa1d1;">1.7</div>
<div class="c" style="left:210.6px;top:565.6px;width:60.4px;height:16.0px;line-height:18.0px;background:#fbdde0;">-14.9</div>
<div class="c" style="left:271px;top:565.6px;width:50px;height:16.0px;line-height:18.0px;background:#fababc;">-10.0</div>
<div class="c" style="left:321px;top:565.6px;width:50px;height:16.0px;line-height:18.0px;background:#fbd8da;">-14.2</div>
<div class="c" style="left:371px;top:565.6px;width:50px;height:16.0px;line-height:18.0px;background:#8fafd9;">-34.4</div>
<div class="c" style="left:421px;top:565.6px;width:50px;height:16.0px;line-height:18.0px;background:#95b3db;">-33.6</div>
<div class="c" style="left:471px;top:565.6px;width:50px;height:16.0px;line-height:18.0px;background:#9ebade;">-32.4</div>
<div class="c" style="left:521px;top:565.6px;width:50px;height:16.0px;line-height:18.0px;background:#e7edf8;">-22.2</div>
<div class="c" style="left:571px;top:565.6px;width:50px;height:16.0px;line-height:18.0px;background:#fcf4f7;">-18.2</div>
<div class="c" style="left:621px;top:565.6px;width:50.5px;height:16.0px;line-height:18.0px;background:#fbe4e7;">-15.9</div>
<div class="c" style="left:672.5px;top:565.6px;width:55.5px;height:16.0px;line-height:18.0px;background:#f8696b;">1.2</div>
<div class="c" style="left:728px;top:565.6px;width:49.6px;height:16.0px;line-height:18.0px;background:#fcf6f9;">-18.4</div>
<div class="c" style="left:210.6px;top:581.6px;width:60.4px;height:15.3px;line-height:17.3px;background:#f9fafe;">-19.7</div>
<div class="c" style="left:271px;top:581.6px;width:50px;height:15.3px;line-height:17.3px;background:#fabdc0;">-10.5</div>
<div class="c" style="left:321px;top:581.6px;width:50px;height:15.3px;line-height:17.3px;background:#fcf9fc;">-18.8</div>
<div class="c" style="left:371px;top:581.6px;width:50px;height:15.3px;line-height:17.3px;background:#5a8ac6;">-41.8</div>
<div class="c" style="left:421px;top:581.6px;width:50px;height:15.3px;line-height:17.3px;background:#6592ca;">-40.3</div>
<div class="c" style="left:471px;top:581.6px;width:50px;height:15.3px;line-height:17.3px;background:#89abd6;">-35.3</div>
<div class="c" style="left:521px;top:581.6px;width:50px;height:15.3px;line-height:17.3px;background:#c1d3ea;">-27.4</div>
<div class="c" style="left:571px;top:581.6px;width:50px;height:15.3px;line-height:17.3px;background:#eef2fa;">-21.2</div>
<div class="c" style="left:621px;top:581.6px;width:50.5px;height:15.3px;line-height:17.3px;background:#fcf8fb;">-18.7</div>
<div class="c" style="left:672.5px;top:581.6px;width:55.5px;height:15.3px;line-height:17.3px;background:#f97c7f;">-1.5</div>
<div class="c" style="left:728px;top:581.6px;width:49.6px;height:15.3px;line-height:17.3px;background:#d0ddef;">-25.4</div>
<div class="c" style="left:210.6px;top:596.9px;width:60.4px;height:15.5px;line-height:17.5px;background:#fbdddf;">6.3</div>
<div class="c" style="left:271px;top:596.9px;width:50px;height:15.5px;line-height:17.5px;background:#f8696b;">47.9</div>
<div class="c" style="left:321px;top:596.9px;width:50px;height:15.5px;line-height:17.5px;background:#f98f91;">34.2</div>
<div class="c" style="left:371px;top:596.9px;width:50px;height:15.5px;line-height:17.5px;background:#cddbee;">-14.0</div>
<div class="c" style="left:421px;top:596.9px;width:50px;height:15.5px;line-height:17.5px;background:#fcfcff;">-5.0</div>
<div class="c" style="left:471px;top:596.9px;width:50px;height:15.5px;line-height:17.5px;background:#dce5f4;">-11.1</div>
<div class="c" style="left:521px;top:596.9px;width:50px;height:15.5px;line-height:17.5px;background:#ccdaee;">-14.2</div>
<div class="c" style="left:571px;top:596.9px;width:50px;height:15.5px;line-height:17.5px;background:#5a8ac6;">-35.9</div>
<div class="c" style="left:621px;top:596.9px;width:50.5px;height:15.5px;line-height:17.5px;background:#9cb8dd;">-23.3</div>
<div class="c" style="left:672.5px;top:596.9px;width:55.5px;height:15.5px;line-height:17.5px;background:#fceaed;">1.6</div>
<div class="c" style="left:728px;top:596.9px;width:49.6px;height:15.5px;line-height:17.5px;background:#fabdbf;">17.7</div>
<div class="l" style="left:17px;width:193.6px;text-align:center;top:72.3px;height:15.0px;line-height:15.0px;">一般公共财政收入</div>
<div class="l b" style="left:78.7px;top:87.3px;height:14.6px;line-height:14.6px;">税收收入</div>
<div class="l" style="left:78.7px;top:101.9px;height:14.1px;line-height:14.1px;">个人所得税</div>
<div class="l" style="left:78.7px;top:116.0px;height:14.0px;line-height:14.0px;">企业所得税</div>
<div class="l" style="left:78.7px;top:130.0px;height:13.7px;line-height:13.7px;">国内消费税</div>
<div class="l" style="left:78.7px;top:143.7px;height:14.1px;line-height:14.1px;">国内增值税</div>
<div class="l" style="left:78.7px;top:157.8px;height:13.8px;line-height:13.8px;">进口环节增值税和消费税</div>
<div class="l" style="left:78.7px;top:171.6px;height:13.6px;line-height:13.6px;">外贸企业出口退税</div>
<div class="l" style="left:78.7px;top:185.2px;height:14.2px;line-height:14.2px;">关税</div>
<div class="l" style="left:78.7px;top:199.4px;height:13.8px;line-height:13.8px;">城镇土地使用税</div>
<div class="l" style="left:78.7px;top:213.2px;height:14.1px;line-height:14.1px;">契税</div>
<div class="l" style="left:78.7px;top:227.3px;height:13.9px;line-height:13.9px;">耕地占用税</div>
<div class="l" style="left:78.7px;top:241.2px;height:13.9px;line-height:13.9px;">土地增值税</div>
<div class="l" style="left:78.7px;top:255.1px;height:13.9px;line-height:13.9px;">房产税</div>
<div class="l b" style="left:78.7px;top:269.0px;height:14.0px;line-height:14.0px;">地产相关税</div>
<div class="l" style="left:78.7px;top:283.0px;height:13.9px;line-height:13.9px;">证券交易印花税</div>
<div class="l" style="left:78.7px;top:296.9px;height:14.0px;line-height:14.0px;">车辆购置税</div>
<div class="l" style="left:78.7px;top:310.9px;height:14.1px;line-height:14.1px;">环境保护税</div>
<div class="l" style="left:78.7px;top:325.0px;height:14.0px;line-height:14.0px;">资源税</div>
<div class="l" style="left:78.7px;top:339.0px;height:15.2px;line-height:15.2px;">城市维护建设税</div>
<div class="l" style="left:78.7px;top:354.2px;height:14.4px;line-height:14.4px;">其他税收</div>
<div class="l b" style="left:78.7px;top:368.6px;height:14.7px;line-height:14.7px;">非税收入</div>
<div class="l" style="left:17px;width:193.6px;text-align:center;top:383.3px;height:14.6px;line-height:14.6px;">一般公共财政支出</div>
<div class="l" style="left:78.7px;top:397.9px;height:14.4px;line-height:14.4px;">城乡社区事务</div>
<div class="l" style="left:78.7px;top:412.3px;height:13.8px;line-height:13.8px;">农林水事务</div>
<div class="l" style="left:78.7px;top:426.1px;height:14.2px;line-height:14.2px;">交通运输</div>
<div class="l b" style="left:78.7px;top:440.3px;height:13.8px;line-height:13.8px;">基建类支出</div>
<div class="l" style="left:78.7px;top:454.1px;height:14.5px;line-height:14.5px;">教育</div>
<div class="l" style="left:78.7px;top:468.6px;height:14.1px;line-height:14.1px;">文化旅游与传媒</div>
<div class="l" style="left:78.7px;top:482.7px;height:14.1px;line-height:14.1px;">社会保障和就业</div>
<div class="l" style="left:78.7px;top:496.8px;height:14.1px;line-height:14.1px;">卫生健康</div>
<div class="l b" style="left:78.7px;top:510.9px;height:14.0px;line-height:14.0px;">民生类支出</div>
<div class="l" style="left:78.7px;top:524.9px;height:13.4px;line-height:13.4px;">节能环保</div>
<div class="l" style="left:78.7px;top:538.3px;height:13.6px;line-height:13.6px;">科学技术</div>
<div class="l" style="left:78.7px;top:551.9px;height:14.4px;line-height:14.4px;">债务付息</div>
<div class="l" style="left:78.7px;top:566.3px;height:16.0px;line-height:16.0px;">政府性基金收入</div>
<div class="l" style="left:78.7px;top:582.3px;height:15.3px;line-height:15.3px;">地方政府土地出让收入</div>
<div class="l" style="left:78.7px;top:597.6px;height:15.5px;line-height:15.5px;">政府性基金支出</div>
<div class="l b" style="left:17px;width:59.5px;text-align:center;top:87.6px;height:14.6px;line-height:14.6px;">税收收入</div>
<div class="l" style="left:17px;width:59.5px;text-align:center;top:102.2px;height:55.9px;line-height:55.9px;">四大税种</div>
<div class="l" style="left:17px;width:59.5px;text-align:center;top:158.1px;height:41.6px;line-height:41.6px;">外贸相关</div>
<div class="l" style="left:17px;width:59.5px;text-align:center;top:199.7px;height:83.6px;line-height:83.6px;">地产相关</div>
<div class="l" style="left:17px;width:59.5px;text-align:center;top:283.3px;height:85.6px;line-height:85.6px;">其他税种</div>
<div class="l b" style="left:17px;width:59.5px;text-align:center;top:368.9px;height:14.7px;line-height:14.7px;">非税收入</div>
<div class="l" style="left:17px;width:59.5px;text-align:center;top:398.2px;height:56.2px;line-height:56.2px;">基建支出</div>
<div class="l" style="left:17px;width:59.5px;text-align:center;top:454.4px;height:70.8px;line-height:70.8px;">民生支出</div>
<div class="l" style="left:17px;width:59.5px;text-align:center;top:525.2px;height:27.0px;display:flex;align-items:center;justify-content:center;line-height:13.4px;padding-bottom:1.5px;box-sizing:border-box;white-space:normal;">科技环保<br>支出</div>
<div class="l" style="left:17px;width:59.5px;text-align:center;top:552.2px;height:14.4px;line-height:14.4px;">其他支出</div>
<div class="hl" style="left:17px;width:193.6px;top:71px;height:2px;background:#1a1a1a;"></div>
<div class="hl" style="left:17px;width:193.6px;top:86px;height:2px;background:#1a1a1a;"></div>
<div class="hl" style="left:17px;width:193.6px;top:382px;height:2px;background:#1a1a1a;"></div>
<div class="hl" style="left:17px;width:193.6px;top:396px;height:2px;background:#1a1a1a;"></div>
<div class="hl" style="left:17px;width:193.6px;top:565px;height:2px;background:#1a1a1a;"></div>
<div class="hl" style="left:17px;width:193.6px;top:581px;height:2px;background:#1a1a1a;"></div>
<div class="hl" style="left:17px;width:193.6px;top:596px;height:2px;background:#1a1a1a;"></div>
<div class="hl" style="left:17px;width:193.6px;top:611px;height:2px;background:#1a1a1a;"></div>
<div class="hl" style="left:17px;width:193.6px;top:101px;height:1px;background:#444;"></div>
<div class="hl" style="left:17px;width:193.6px;top:157px;height:1px;background:#333;"></div>
<div class="hl" style="left:17px;width:193.6px;top:198px;height:1px;background:#222;"></div>
<div class="hl" style="left:17px;width:193.6px;top:282px;height:1px;background:#666;"></div>
<div class="hl" style="left:17px;width:193.6px;top:367px;height:1px;background:#555;"></div>
<div class="hl" style="left:17px;width:193.6px;top:453px;height:1px;background:#777;"></div>
<div class="hl" style="left:17px;width:193.6px;top:551px;height:1px;background:#222;"></div>
<div class="hl" style="left:17px;width:193.6px;top:523px;height:2px;background:#aaa;"></div>
<div class="hl" style="left:76.5px;width:134.1px;top:115px;height:1px;background:#333;"></div>
<div class="hl" style="left:76.5px;width:134.1px;top:129px;height:1px;background:#333;"></div>
<div class="hl" style="left:76.5px;width:134.1px;top:143px;height:1px;background:#333;"></div>
<div class="hl" style="left:76.5px;width:134.1px;top:170px;height:1px;background:#333;"></div>
<div class="hl" style="left:76.5px;width:134.1px;top:184px;height:1px;background:#333;"></div>
<div class="hl" style="left:76.5px;width:134.1px;top:212px;height:1px;background:#333;"></div>
<div class="hl" style="left:76.5px;width:134.1px;top:226px;height:1px;background:#333;"></div>
<div class="hl" style="left:76.5px;width:134.1px;top:240px;height:1px;background:#333;"></div>
<div class="hl" style="left:76.5px;width:134.1px;top:254px;height:1px;background:#333;"></div>
<div class="hl" style="left:76.5px;width:134.1px;top:268px;height:1px;background:#333;"></div>
<div class="hl" style="left:76.5px;width:134.1px;top:296px;height:1px;background:#333;"></div>
<div class="hl" style="left:76.5px;width:134.1px;top:310px;height:1px;background:#333;"></div>
<div class="hl" style="left:76.5px;width:134.1px;top:324px;height:1px;background:#333;"></div>
<div class="hl" style="left:76.5px;width:134.1px;top:338px;height:1px;background:#333;"></div>
<div class="hl" style="left:76.5px;width:134.1px;top:353px;height:1px;background:#333;"></div>
<div class="hl" style="left:76.5px;width:134.1px;top:411px;height:1px;background:#333;"></div>
<div class="hl" style="left:76.5px;width:134.1px;top:425px;height:1px;background:#333;"></div>
<div class="hl" style="left:76.5px;width:134.1px;top:439px;height:1px;background:#333;"></div>
<div class="hl" style="left:76.5px;width:134.1px;top:467px;height:1px;background:#333;"></div>
<div class="hl" style="left:76.5px;width:134.1px;top:482px;height:1px;background:#333;"></div>
<div class="hl" style="left:76.5px;width:134.1px;top:496px;height:1px;background:#333;"></div>
<div class="hl" style="left:76.5px;width:134.1px;top:510px;height:1px;background:#333;"></div>
<div class="hl" style="left:76.5px;width:134.1px;top:537px;height:1px;background:#333;"></div>
<div class="vl" style="left:76.0px;top:86.6px;height:296.0px;width:1px;background:#444;"></div>
<div class="vl" style="left:76.0px;top:397.2px;height:168.4px;width:1px;background:#444;"></div>
<div class="vl" style="left:76.0px;top:581.6px;height:15.3px;width:1px;background:#444;"></div>
<div class="hl" style="left:210.6px;width:567.0px;top:71px;height:1px;background:#666;"></div>
<div class="hl" style="left:210.6px;width:567.0px;top:612px;height:1px;background:#aaa;"></div>
<div class="vl" style="left:670.85px;top:57.6px;height:554.8px;width:1.5px;background:#333;"></div>
<div class="hl" style="left:8px;width:779px;top:616px;height:1px;background:#333;"></div>
<div class="f">资料来源：Wind，民生证券研究院</div>
</body></html>
